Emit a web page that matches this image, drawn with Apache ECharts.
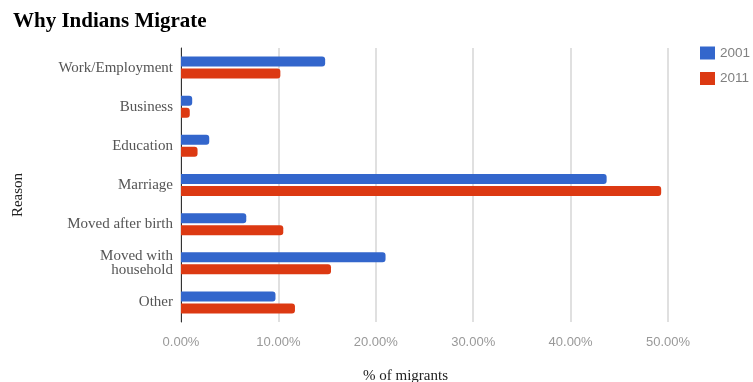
<!DOCTYPE html>
<html>
<head>
<meta charset="utf-8">
<script src="https://cdn.jsdelivr.net/npm/echarts@6/dist/echarts.min.js"></script>
<style>
html, body { margin: 0; padding: 0; background: #fff; }
#main { width: 753px; height: 382px; }
</style>
</head>
<body>
<div id="main"></div>
<script>
var reasons = ['Work/Employment', 'Business', 'Education', 'Marriage', 'Moved after birth', 'Moved with\nhousehold', 'Other'];
var share2001 = [14.8, 1.15, 2.9, 43.7, 6.7, 21.0, 9.7];
var share2011 = [10.2, 0.9, 1.7, 49.3, 10.5, 15.4, 11.7];
var xTicks = [0, 10, 20, 30, 40, 50];

var colors = ['#3366cc', '#dc3912'];
var serif = '"Liberation Serif", "DejaVu Serif", serif';
var sans = '"Liberation Sans", Arial, sans-serif';

var myChart = echarts.init(document.getElementById('main'));

var option = {
	color: colors,
	animation: false,
	title: {
		text: 'Why Indians Migrate',
		left: 8,
		top: 6,
		textStyle: {
			fontFamily: serif,
			fontSize: 21,
			fontWeight: 'bold',
			color: '#000'
		}
	},
	legend: {
		orient: 'vertical',
		left: 695,
		top: 41,
		itemWidth: 15,
		itemHeight: 13,
		itemGap: 11.5,
		icon: 'rect',
		textStyle: {
			fontFamily: sans,
			fontSize: 13.5,
			color: '#808080'
		},
		data: ['2001', '2011']
	},
	grid: {
		left: 181,
		right: 85,
		top: 48,
		bottom: 60,
		outerBoundsMode: 'none'
	},
	xAxis: {
		type: 'value',
		min: xTicks[0],
		max: xTicks[xTicks.length - 1],
		interval: 10,
		name: '% of migrants',
		nameLocation: 'middle',
		nameGap: 47,
		nameTextStyle: {
			fontFamily: serif,
			fontSize: 15,
			color: '#222',
			padding: [0, 38, 0, 0]
		},
		axisLine: { show: false },
		axisTick: { show: false },
		axisLabel: {
			margin: 14,
			fontFamily: sans,
			fontSize: 13,
			color: '#999',
			formatter: function(v) {
				return v.toFixed(2) + '%';
			}
		},
		splitLine: {
			lineStyle: { color: '#d6d6d6', width: 1.5 }
		}
	},
	yAxis: {
		type: 'category',
		inverse: true,
		data: reasons,
		name: 'Reason',
		nameLocation: 'middle',
		nameGap: 155,
		nameTextStyle: {
			fontFamily: serif,
			fontSize: 15,
			color: '#222',
			padding: [0, 20, 0, 0]
		},
		axisLine: {
			lineStyle: { color: '#333', width: 1 }
		},
		axisTick: { show: false },
		axisLabel: {
			margin: 8,
			fontFamily: serif,
			fontSize: 15,
			color: '#555',
			lineHeight: 14
		}
	},
	series: [{
			name: '2001',
			type: 'bar',
			barWidth: 10,
			barGap: '20%',
			itemStyle: { borderRadius: [0, 3, 3, 0] },
			data: share2001
		},
		{
			name: '2011',
			type: 'bar',
			barWidth: 10,
			itemStyle: { borderRadius: [0, 3, 3, 0] },
			data: share2011
		}
	]
};

myChart.setOption(option);
</script>
</body>
</html>
